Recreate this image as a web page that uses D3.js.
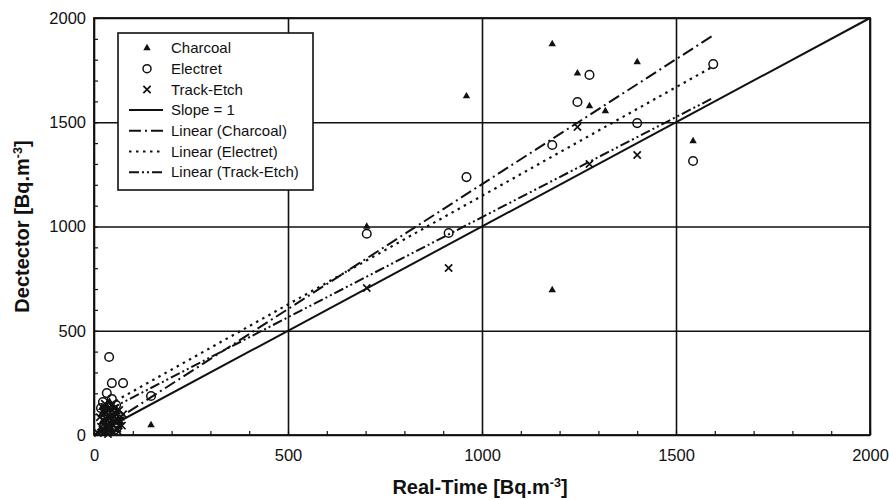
<!DOCTYPE html>
<html>
<head>
<meta charset="utf-8">
<script src="https://cdn.jsdelivr.net/npm/d3@7"></script>
<style>
  body { margin: 0; background: #fff; }
  svg { font-family: "Liberation Sans", Arial, sans-serif; }
</style>
</head>
<body>
<svg id="chart" width="889" height="500"></svg>
<script>
// values: [real-time, detector] in Bq.m-3
const charcoal = [
  [15, 20], [20, 60], [25, 100], [30, 40], [35, 80], [40, 120], [45, 30], [50, 90],
  [55, 60], [60, 110], [30, 10], [65, 40], [70, 80], [20, 130], [40, 160],
  [22, 5], [28, 75], [33, 140], [38, 50], [43, 95], [48, 15], [52, 130], [58, 25],
  [62, 75], [18, 95], [27, 120], [47, 65], [36, 25], [57, 100], [68, 60],
  [147, 48], [703, 1000], [960, 1625], [1181, 1875], [1181, 695], [1246, 1735],
  [1277, 1578], [1318, 1554], [1400, 1789], [1544, 1410]
];
const electret = [
  [39, 374], [46, 249], [75, 249], [33, 201], [46, 173], [23, 158], [18, 129], [57, 144],
  [147, 187], [703, 965], [914, 969], [960, 1237], [1181, 1391], [1246, 1597],
  [1277, 1727], [1400, 1496], [1544, 1314], [1596, 1779]
];
const trackEtch = [
  [10, 10], [18, 40], [25, 70], [32, 110], [38, 20], [42, 55], [48, 95], [55, 130],
  [60, 30], [68, 70], [75, 100], [28, 150],
  [15, 85], [22, 25], [30, 60], [35, 125], [40, 90], [45, 140], [50, 45], [53, 110],
  [58, 80], [63, 15], [26, 105], [36, 5], [44, 70], [65, 120], [72, 45],
  [703, 705], [914, 801], [1246, 1477], [1277, 1300], [1400, 1343]
];

// fitted lines as drawn in the figure (end points)
const slopeOne = [[0, 0], [2000, 2000]];
const linCharcoal = [[40, 53], [1596, 1917]];
const linElectret = [[40, 147], [1596, 1768]];
const linTrackEtch = [[40, 123], [1596, 1617]];

const majorTicks = [0, 500, 1000, 1500, 2000];
const minorTicks = d3.range(0, 2001, 100);

const legendItems = [
  { label: 'Charcoal', type: 'tri' },
  { label: 'Electret', type: 'circ' },
  { label: 'Track-Etch', type: 'cross' },
  { label: 'Slope = 1', type: 'line', dash: null },
  { label: 'Linear (Charcoal)', type: 'line', dash: '12,4,2,4' },
  { label: 'Linear (Electret)', type: 'line', dash: '2.5,4.5' },
  { label: 'Linear (Track-Etch)', type: 'line', dash: '10,3,2,3,2,3' }
];

const svg = d3.select('#chart');
const m = { left: 94, right: 870, top: 18, bottom: 435 };

const x = d3.scaleLinear().domain([0, 2000]).range([m.left, m.right]);
const y = d3.scaleLinear().domain([0, 2000]).range([m.bottom, m.top]);

const ink = '#111';

// gridlines
svg.append('g')
  .attr('transform', `translate(0,${m.bottom})`)
  .call(d3.axisBottom(x).tickValues(majorTicks).tickSize(-(m.bottom - m.top)).tickFormat(''))
  .call(g => g.select('.domain').remove())
  .call(g => g.selectAll('line').attr('stroke', ink).attr('stroke-width', 1.6));
svg.append('g')
  .attr('transform', `translate(${m.left},0)`)
  .call(d3.axisLeft(y).tickValues(majorTicks).tickSize(-(m.right - m.left)).tickFormat(''))
  .call(g => g.select('.domain').remove())
  .call(g => g.selectAll('line').attr('stroke', ink).attr('stroke-width', 1.6));

// minor ticks, pointing inwards
svg.append('g')
  .attr('transform', `translate(0,${m.bottom})`)
  .call(d3.axisBottom(x).tickValues(minorTicks).tickSize(-4).tickFormat(''))
  .call(g => g.select('.domain').remove())
  .call(g => g.selectAll('line').attr('stroke', ink).attr('stroke-width', 1.2));
svg.append('g')
  .attr('transform', `translate(${m.left},0)`)
  .call(d3.axisLeft(y).tickValues(minorTicks).tickSize(-4).tickFormat(''))
  .call(g => g.select('.domain').remove())
  .call(g => g.selectAll('line').attr('stroke', ink).attr('stroke-width', 1.2));

// tick labels
svg.append('g')
  .attr('transform', `translate(0,${m.bottom})`)
  .call(d3.axisBottom(x).tickValues(majorTicks).tickSize(0).tickPadding(14).tickFormat(d3.format('d')))
  .call(g => g.select('.domain').remove())
  .call(g => g.selectAll('text').attr('font-size', 16.5).attr('fill', ink).attr('font-family', 'Liberation Sans, Arial'));
svg.append('g')
  .attr('transform', `translate(${m.left},0)`)
  .call(d3.axisLeft(y).tickValues(majorTicks).tickSize(0).tickPadding(8).tickFormat(d3.format('d')))
  .call(g => g.select('.domain').remove())
  .call(g => g.selectAll('text').attr('font-size', 16.5).attr('fill', ink).attr('font-family', 'Liberation Sans, Arial'));

// frame
svg.append('rect')
  .attr('x', m.left).attr('y', m.top)
  .attr('width', m.right - m.left).attr('height', m.bottom - m.top)
  .attr('fill', 'none').attr('stroke', ink).attr('stroke-width', 1.8);

// lines
const line = d3.line().x(d => x(d[0])).y(d => y(d[1]));
const lines = [
  { data: slopeOne, dash: null, w: 2 },
  { data: linCharcoal, dash: '12,4,2,4', w: 2 },
  { data: linElectret, dash: '2.5,4.5', w: 2.2 },
  { data: linTrackEtch, dash: '10,3,2,3,2,3', w: 2 }
];
svg.append('g').selectAll('path')
  .data(lines)
  .join('path')
  .attr('d', d => line(d.data))
  .attr('fill', 'none')
  .attr('stroke', ink)
  .attr('stroke-width', d => d.w)
  .attr('stroke-dasharray', d => d.dash);

// markers
const tri = d3.symbol().type(d3.symbolTriangle).size(24);
const cross = d3.symbol().type(d3.symbolX).size(36);

svg.append('g').selectAll('path')
  .data(trackEtch)
  .join('path')
  .attr('transform', d => `translate(${x(d[0])},${y(d[1])})`)
  .attr('d', cross)
  .attr('stroke', ink).attr('stroke-width', 1.7).attr('fill', 'none');

svg.append('g').selectAll('circle')
  .data(electret)
  .join('circle')
  .attr('cx', d => x(d[0])).attr('cy', d => y(d[1]))
  .attr('r', 4.3)
  .attr('fill', 'none').attr('stroke', ink).attr('stroke-width', 1.5);

svg.append('g').selectAll('path')
  .data(charcoal)
  .join('path')
  .attr('transform', d => `translate(${x(d[0])},${y(d[1])})`)
  .attr('d', tri)
  .attr('fill', ink);

// legend
const lg = svg.append('g').attr('transform', 'translate(118,33)');
lg.append('rect')
  .attr('width', 195).attr('height', 157)
  .attr('fill', '#fff').attr('stroke', ink).attr('stroke-width', 1.6);

const rows = lg.selectAll('g.row')
  .data(legendItems)
  .join('g')
  .attr('class', 'row')
  .attr('transform', (d, i) => `translate(0,${15 + i * 20.7})`);

rows.filter(d => d.type === 'tri').append('path')
  .attr('transform', 'translate(29,0)').attr('d', tri).attr('fill', ink);
rows.filter(d => d.type === 'circ').append('circle')
  .attr('cx', 29).attr('r', 4).attr('fill', 'none').attr('stroke', ink).attr('stroke-width', 1.5);
rows.filter(d => d.type === 'cross').append('path')
  .attr('transform', 'translate(29,0)').attr('d', cross)
  .attr('fill', 'none').attr('stroke', ink).attr('stroke-width', 1.7);
rows.filter(d => d.type === 'line').append('line')
  .attr('x1', 11).attr('x2', 45)
  .attr('stroke', ink).attr('stroke-width', 2)
  .attr('stroke-dasharray', d => d.dash);

rows.append('text')
  .attr('x', 53).attr('dy', '0.35em')
  .attr('font-size', 15).attr('fill', ink)
  .text(d => d.label);

// axis titles
const xt = svg.append('text')
  .attr('x', 480).attr('y', 494)
  .attr('text-anchor', 'middle')
  .attr('font-size', 20).attr('font-weight', 'bold').attr('fill', ink);
xt.append('tspan').text('Real-Time [Bq.m');
xt.append('tspan').attr('dy', -7).attr('font-size', 12.5).text('-3');
xt.append('tspan').attr('dy', 7).text(']');

const yt = svg.append('text')
  .attr('transform', `translate(29,${(m.top + m.bottom) / 2}) rotate(-90)`)
  .attr('text-anchor', 'middle')
  .attr('font-size', 20).attr('font-weight', 'bold').attr('fill', ink);
yt.append('tspan').text('Dectector [Bq.m');
yt.append('tspan').attr('dy', -7).attr('font-size', 12.5).text('-3');
yt.append('tspan').attr('dy', 7).text(']');
</script>
</body>
</html>
